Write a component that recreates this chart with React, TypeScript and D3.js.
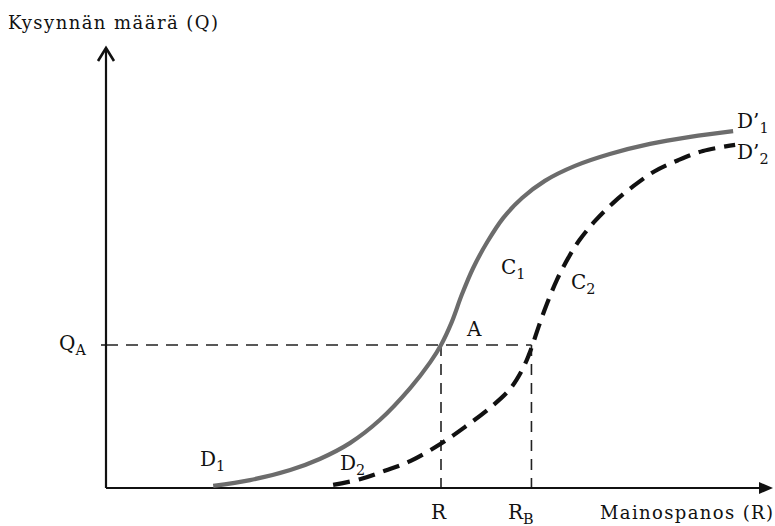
import React from "react";
import * as d3 from "d3";

// Curve C1 (solid) : advertising spend R vs. demand Q
const c1R = [16.0, 21.5, 27.5, 31.9, 36.4, 40.9, 45.4, 48.4, 50.0, 51.6, 53.1, 54.8, 56.9, 59.3, 62.1, 65.5, 70.0, 75.2, 81.2, 87.2, 93.6];
const c1Q = [0.5, 1.8, 4.1, 6.6, 10.2, 15.5, 22.7, 28.6, 32.5, 37.7, 43.9, 50.0, 55.9, 61.4, 65.9, 69.8, 73.2, 75.9, 78.2, 79.8, 81.1];

// Curve C2 (dashed)
const c2R = [33.9, 37.9, 41.6, 45.4, 49.9, 53.6, 57.3, 60.3, 62.1, 63.1, 63.7, 64.6, 65.8, 67.3, 69.0, 70.7, 73.0, 75.7, 78.7, 81.9, 85.4, 89.1, 93.9];
const c2Q = [0.7, 2.0, 3.9, 6.1, 10.0, 13.9, 18.2, 22.5, 26.8, 30.2, 32.7, 36.8, 41.8, 47.3, 52.3, 56.4, 60.7, 64.8, 68.6, 72.0, 74.5, 76.6, 78.0];

// Reference levels
const qA = 32.5;
const rA = 50.0;
const rB = 63.5;

const yTitle = "Kysynnän määrä (Q)";
const xTitle = "Mainospanos (R)";

const W = 775;
const H = 526;
const FONT = "'DejaVu Serif', 'Liberation Serif', serif";

export default function App() {
  const x = d3.scaleLinear().domain([0, 100]).range([106, 776]);
  const y = d3.scaleLinear().domain([0, 100]).range([488, 48]);

  const c1 = c1R.map((r, i) => [r, c1Q[i]] as [number, number]);
  const c2 = c2R.map((r, i) => [r, c2Q[i]] as [number, number]);

  const line = d3
    .line<[number, number]>()
    .x((d) => x(d[0]))
    .y((d) => y(d[1]))
    .curve(d3.curveCatmullRom.alpha(0.5));

  const x0 = x(0);
  const y0 = y(0);
  const xEnd = 773;
  const yTop = 48;

  const sub = (base: string, s: string, px: number, py: number, fs = 20, dy = 5) => (
    <text x={px} y={py} fontFamily={FONT} fontSize={fs} fill="#111">
      {base}
      <tspan fontSize={fs * 0.72} dy={dy}>{s}</tspan>
    </text>
  );

  return (
    <svg
      width={W}
      height={H}
      style={{ position: "absolute", left: 0, top: 0, background: "#fff" }}
    >
      <rect x={0} y={0} width={W} height={H} fill="#fff" />

      {/* guide lines */}
      <line x1={x0} x2={x(rB)} y1={y(qA)} y2={y(qA)} stroke="#222" strokeWidth={1.4} strokeDasharray="12 8" />
      <line x1={x(rA)} x2={x(rA)} y1={y(qA)} y2={y0} stroke="#222" strokeWidth={1.6} strokeDasharray="11 8" />
      <line x1={x(rB)} x2={x(rB)} y1={y(qA)} y2={y0} stroke="#222" strokeWidth={1.6} strokeDasharray="11 8" />
      <line x1={x0 - 5} x2={x0} y1={y(qA)} y2={y(qA)} stroke="#222" strokeWidth={1.6} />

      {/* axes */}
      <line x1={x0} x2={x0} y1={y0} y2={yTop + 1} stroke="#111" strokeWidth={2.2} />
      <path d={`M${x0 - 8},${yTop + 13} L${x0},${yTop} L${x0 + 8},${yTop + 13}`} fill="none" stroke="#111" strokeWidth={2.6} />
      <line x1={x0} x2={xEnd - 8} y1={y0} y2={y0} stroke="#111" strokeWidth={2.2} />
      <path d={`M${xEnd - 14},${y0 - 6} L${xEnd},${y0} L${xEnd - 14},${y0 + 6} Z`} fill="#111" />

      {/* curves */}
      <path d={line(c2) || ""} fill="none" stroke="#111" strokeWidth={4.2} strokeDasharray="17 9" />
      <path d={line(c1) || ""} fill="none" stroke="#6c6c6c" strokeWidth={4.2} />

      {/* titles */}
      <text x={8} y={29} fontFamily={FONT} fontSize={18} fill="#111" textLength={210} lengthAdjust="spacing">
        {yTitle}
      </text>
      <text x={600} y={519} fontFamily={FONT} fontSize={18} fill="#111" textLength={173} lengthAdjust="spacing">
        {xTitle}
      </text>

      {/* labels */}
      {sub("Q", "A", 59, 350)}
      <text x={467} y={336} fontFamily={FONT} fontSize={20} fill="#111">A</text>
      {sub("C", "1", 501, 274)}
      {sub("C", "2", 571, 289)}
      {sub("D", "1", 200, 466)}
      {sub("D", "2", 340, 470)}
      {sub("D’", "1", 737, 128)}
      {sub("D’", "2", 737, 159)}
      <text x={431} y={519} fontFamily={FONT} fontSize={20} fill="#111">R</text>
      {sub("R", "B", 508, 519)}
    </svg>
  );
}
